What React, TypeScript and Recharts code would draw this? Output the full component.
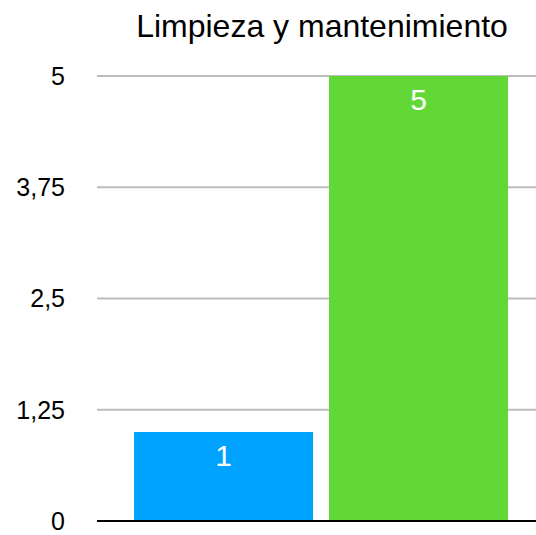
import { BarChart, Bar, XAxis, YAxis, CartesianGrid, Cell, LabelList } from 'recharts';

const categories = ['Serie 1', 'Serie 2'];
const values = [1, 5];
const barColors = ['#00A2FF', '#61D836'];
const yTicks = [0, 1.25, 2.5, 3.75, 5];
const title = 'Limpieza y mantenimiento';

const data = categories.map((name, i) => ({ name, value: values[i] }));

const font = '"Helvetica Neue", "Liberation Sans", Arial, sans-serif';

export default function App() {
  return (
    <div style={{ position: 'absolute', left: 0, top: 0, width: 536, height: 535, fontFamily: font }}>
      <div
        style={{
          position: 'absolute',
          left: 122,
          top: 10,
          width: 400,
          textAlign: 'center',
          fontSize: 32,
          lineHeight: '32px',
          color: '#000',
        }}
      >
        {title}
      </div>
      <BarChart
        width={536}
        height={535}
        data={data}
        margin={{ top: 76, right: 0, bottom: 0, left: 0 }}
      >
        <CartesianGrid vertical={false} stroke="#bdbdbd" strokeWidth={2} />
        <XAxis
          dataKey="name"
          tick={false}
          tickLine={false}
          height={14}
          padding={{ left: 29, right: 20 }}
          axisLine={{ stroke: '#000', strokeWidth: 2 }}
        />
        <YAxis
          width={97}
          domain={[0, 5]}
          ticks={yTicks}
          interval={0}
          axisLine={false}
          tickLine={false}
          tickSize={0}
          tickMargin={32}
          tick={{ fontSize: 25, fill: '#000', fontFamily: font }}
          tickFormatter={(v: number) => String(v).replace('.', ',')}
        />
        <Bar dataKey="value" barSize={179} isAnimationActive={false}>
          {data.map((d, i) => (
            <Cell key={d.name} fill={barColors[i]} />
          ))}
          <LabelList
            dataKey="value"
            position="insideTop"
            offset={13}
            fill="#fff"
            fontSize={30}
            fontFamily={font}
          />
        </Bar>
      </BarChart>
    </div>
  );
}
